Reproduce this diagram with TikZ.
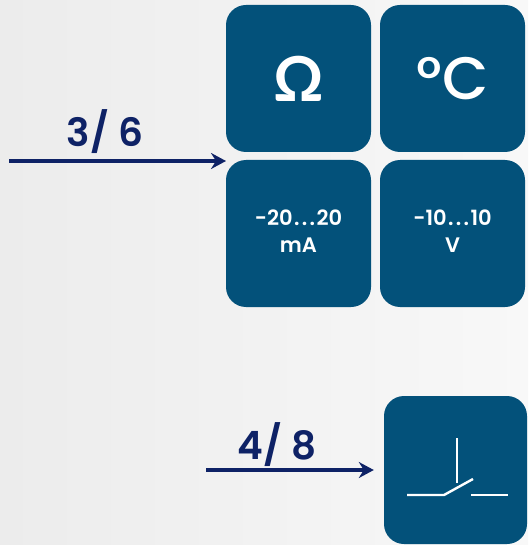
\documentclass[tikz,border=0pt]{standalone}
\usepackage{fontspec}
\setmainfont{Poppins}[FontFace={sb}{n}{Poppins SemiBold}, FontFace={mb}{n}{Poppins Medium}]
\newfontfamily\omfont{Lato}
\usetikzlibrary{arrows.meta,calc}
\definecolor{boxblue}{HTML}{03517A}
\definecolor{navy}{HTML}{0E2266}
\definecolor{bgleft}{HTML}{ECECEC}
\definecolor{bgright}{HTML}{F8F8F8}
\newcommand{\spdots}{\kern1.5pt.\kern2.2pt.\kern2.2pt.\kern1.5pt}
\newcommand{\rangelines}[2]{\raisebox{3pt}{\begin{tabular}{@{}c@{}}#1\\#2\end{tabular}}}
\tikzset{
  tile/.style={fill=boxblue, rounded corners=20pt, inner sep=0pt, text=white, align=center},
  bigsym/.style={font=\fontsize{60}{64}\fontseries{mb}\selectfont},
  omsym/.style={font=\omfont\fontsize{62}{64}\selectfont\bfseries},
  rangetext/.style={font=\fontsize{21}{27}\fontseries{sb}\selectfont},
  numlabel/.style={text=navy, font=\fontsize{39}{40}\fontseries{sb}\selectfont, inner sep=0pt},
  feed/.style={draw=navy, line width=3.2pt, -{Stealth[length=15pt,width=16pt,inset=5pt]}},
  switchline/.style={draw=white, line width=2.4pt}
}
\begin{document}
\begin{tikzpicture}[x=1pt,y=-1pt]
\shade[left color=bgleft, right color=bgright] (0,0) rectangle (528,545);
\useasboundingbox (0,0) rectangle (528,545);

\node[tile, minimum width=145pt, minimum height=147pt, omsym] (om) at (298.5,78.5) {Ω};
\node[tile, minimum width=145pt, minimum height=147pt, bigsym] (deg) at (452.5,78.5) {°\kern1pt C};
\node[tile, minimum width=145pt, minimum height=147pt, rangetext] (ma) at (298.5,233.5) {\rangelines{-20\spdots20}{mA}};
\node[tile, minimum width=145pt, minimum height=147pt, rangetext] (volt) at (452.5,233.5) {\rangelines{-10\spdots10}{V}};
\node[tile, minimum width=143pt, minimum height=148pt] (sw) at (455.5,470) {};

\coordinate (a1s) at (9,161);
\coordinate (a1e) at (226,161);
\draw[feed] (a1s) -- (a1e);
\node[numlabel] (l1) at (105,132) {3/ 6};

\coordinate (a2s) at (206,470);
\draw[feed, shorten >=10pt] (a2s) -- (sw.west |- a2s);
\node[numlabel] (l2) at (277,445) {4/ 8};

\begin{scope}[shift={(sw.center)}]
  \draw[switchline] (-48.5,25) -- (-11.5,25) -- (17.5,9);
  \draw[switchline] (1.5,-32) -- (1.5,13);
  \draw[switchline] (15.5,25) -- (52.5,25);
\end{scope}
\end{tikzpicture}
\end{document}
